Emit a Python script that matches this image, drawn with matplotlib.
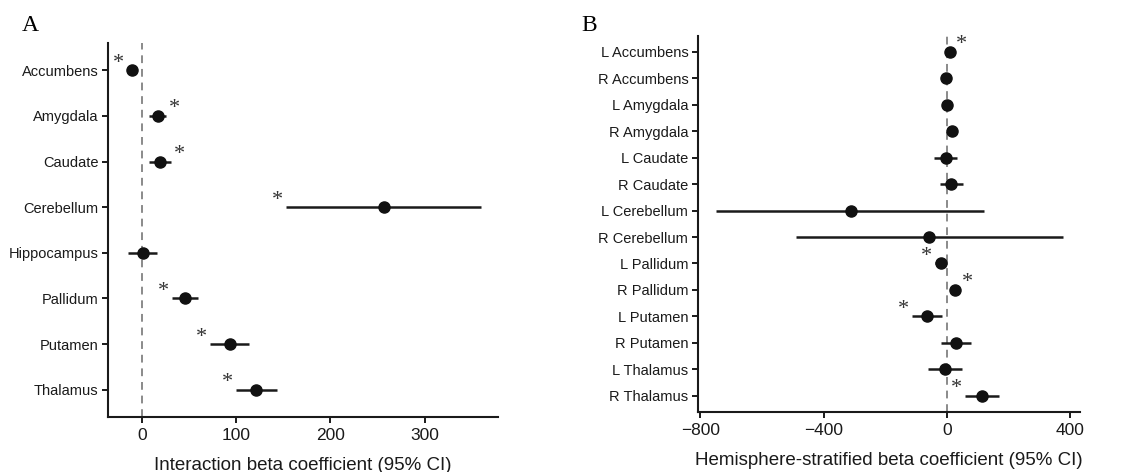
import numpy as np
import matplotlib
matplotlib.use("Agg")
import matplotlib.pyplot as plt

# Panel A: interaction beta coefficients
regions_a = ["Accumbens", "Amygdala", "Caudate", "Cerebellum",
             "Hippocampus", "Pallidum", "Putamen", "Thalamus"]
beta_a = [-11, 17, 19, 257, 1, 46, 93, 121]
lower_a = [-16, 7, 7, 153, -15, 32, 72, 100]
upper_a = [-6, 26, 31, 360, 16, 60, 114, 143]
# star side: -1 = left of CI, +1 = right of CI, 0 = no star
star_a = [-1, 1, 1, -1, 0, -1, -1, -1]

# Panel B: hemisphere-stratified beta coefficients
regions_b = ["L Accumbens", "R Accumbens", "L Amygdala", "R Amygdala",
             "L Caudate", "R Caudate", "L Cerebellum", "R Cerebellum",
             "L Pallidum", "R Pallidum", "L Putamen", "R Putamen",
             "L Thalamus", "R Thalamus"]
beta_b = [9, -2, 1, 18, -4, 15, -312, -57, -19, 28, -65, 29, -6, 114]
lower_b = [-4, -10, -8, 8, -41, -22, -748, -491, -38, 15, -112, -20, -61, 60]
upper_b = [21, 6, 10, 28, 33, 52, 122, 379, 0, 41, -16, 78, 49, 169]
star_b = [1, 0, 0, 0, 0, 0, 0, 0, -1, 1, -1, 0, 0, -1]

plt.rcParams["font.family"] = ["Liberation Sans", "DejaVu Sans"]

fig = plt.figure(figsize=(11.43, 4.72), dpi=100)
ax_a = fig.add_axes([0.0945, 0.1165, 0.3412, 0.7925])
ax_b = fig.add_axes([0.6107, 0.1278, 0.3342, 0.7962])


def forest(ax, labels, beta, lower, upper, stars, xlim, xticks, xlabel, pad):
    y = np.arange(len(labels))
    ax.axvline(0, color="#8a8a8a", lw=1.4, ls=(0, (4, 3)), zorder=1)
    ax.hlines(y, lower, upper, color="#1a1a1a", lw=1.8, zorder=2)
    ax.plot(beta, y, "o", color="#111111", ms=8, zorder=3)
    for yi, lo, hi, s in zip(y, lower, upper, stars):
        if s == 0:
            continue
        x0 = hi if s > 0 else lo
        ax.annotate("*", xy=(x0, yi), xytext=(6 * s, 5), textcoords="offset points",
                    ha="center", va="center", fontsize=16, color="#333333",
                    family="Liberation Serif")
    ax.set_yticks(y)
    ax.set_yticklabels(labels)
    ax.set_ylim(len(labels) - 0.4, -0.6)
    ax.set_xlim(*xlim)
    ax.set_xticks(xticks)
    ax.set_xticklabels([str(t).replace("-", "\u2212") for t in xticks])
    ax.set_xlabel(xlabel, fontsize=13.5, color="#1a1a1a", labelpad=pad)
    for side in ["top", "right"]:
        ax.spines[side].set_visible(False)
    for side in ["left", "bottom"]:
        ax.spines[side].set_linewidth(1.5)
        ax.spines[side].set_color("#1a1a1a")
    ax.tick_params(axis="both", length=4, width=1.4, color="#1a1a1a",
                   labelcolor="#1a1a1a", pad=3)
    ax.tick_params(axis="y", labelsize=10.5)
    ax.tick_params(axis="x", labelsize=12.5, pad=4)


forest(ax_a, regions_a, beta_a, lower_a, upper_a, star_a,
       (-36, 378), [0, 100, 200, 300], "Interaction beta coefficient (95% CI)", 10)
forest(ax_b, regions_b, beta_b, lower_b, upper_b, star_b,
       (-808, 433), [-800, -400, 0, 400],
       "Hemisphere-stratified beta coefficient (95% CI)", 10)

fig.text(0.0192, 0.945, "A", fontsize=17, family="Liberation Serif", va="center")
fig.text(0.509, 0.945, "B", fontsize=17, family="Liberation Serif", va="center")

fig.savefig("out.png", dpi=100, facecolor="white")
